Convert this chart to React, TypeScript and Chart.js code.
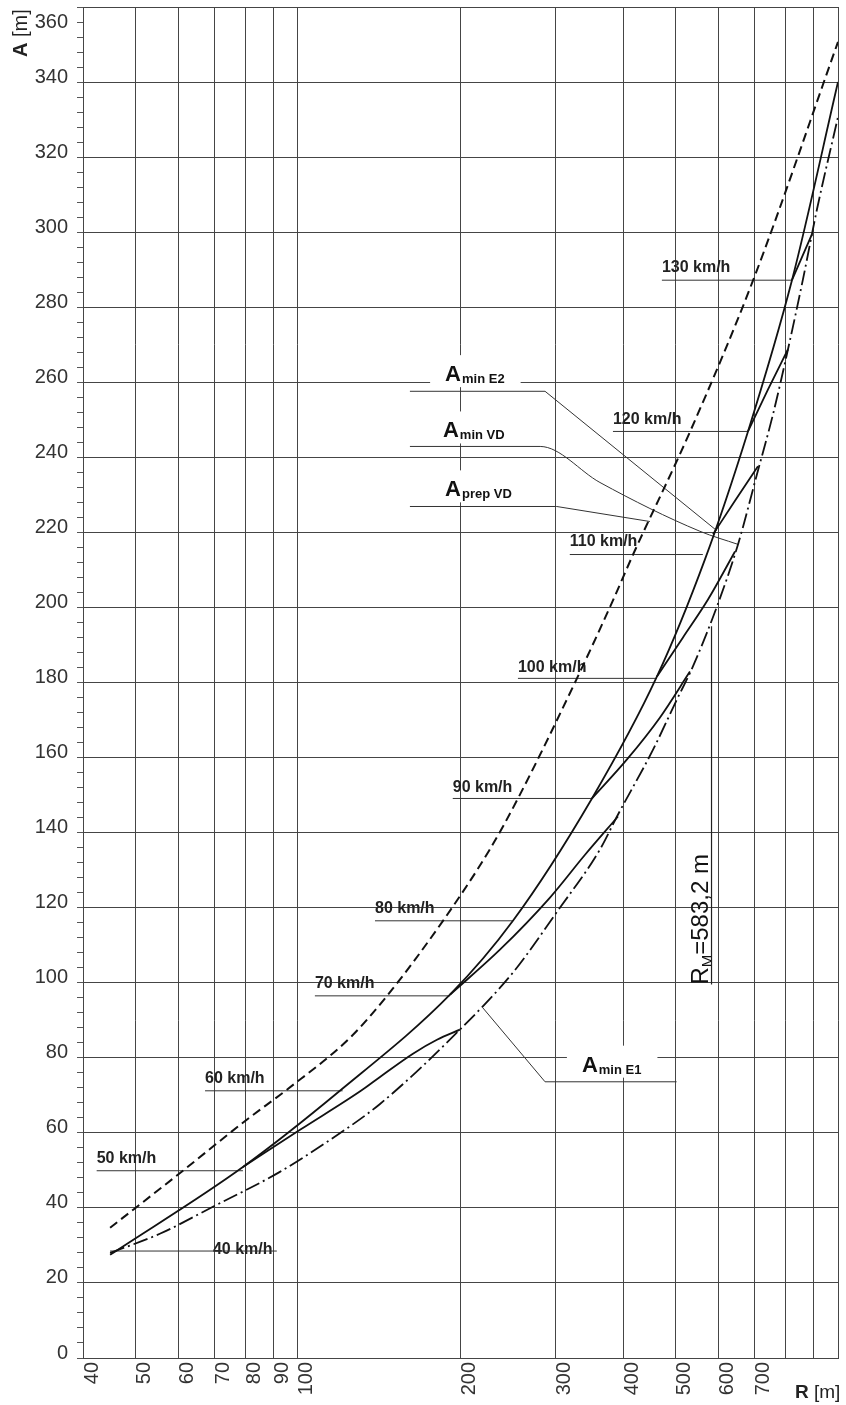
import React, { useEffect, useRef } from 'react';
import { Chart, registerables } from 'chart.js';

Chart.register(...registerables);

const FONT = '"Liberation Sans", Arial, Helvetica, sans-serif';

// Axes
const xTickValues = [40, 50, 60, 70, 80, 90, 100, 200, 300, 400, 500, 600, 700, 800, 900, 1000];
const xTickLabels = ['40', '50', '60', '70', '80', '90', '100', '200', '300', '400', '500', '600', '700', '', '', ''];
const yTickLabels = [0, 20, 40, 60, 80, 100, 120, 140, 160, 180, 200, 220, 240, 260, 280, 300, 320, 340, 360];

// A prep VD (dashed)
const prepVdR = [44.9, 60.5, 80.4, 95.4, 124.8, 146.2, 185.6, 226.6, 255.5, 328.6, 381.5, 417.4, 532.4, 696.4, 1000];
const prepVdA = [34.7, 49.3, 63.5, 71.5, 85.3, 96.5, 116.5, 135.5, 149.1, 181.1, 201.3, 214.1, 246.9, 287.2, 350.7];

// upper solid curve through the speed points
const upperR = [44.9, 79.1, 119.6, 191.2, 250.1, 350.3, 462.2, 567.1, 681.3, 821.8, 1000];
const upperA = [27.5, 50.9, 71.2, 96.8, 116.5, 149.1, 181.6, 212.8, 246.9, 287.2, 340];

// A min E1 (dash-dot)
const e1R = [44.9, 55.5, 69.6, 92.6, 114.6, 141.9, 199.5, 250.1, 301.8, 362.4, 389.7, 454.5, 503.3, 538.8, 597, 652.9, 707.9, 758.1, 808, 861.4, 914.3, 1000];
const e1A = [28, 33.1, 40.3, 49.6, 58.1, 67.7, 87.5, 102.7, 118.9, 135.5, 144.3, 162.1, 175.5, 184.3, 200.3, 216.8, 235.5, 251.5, 268.8, 287.5, 306.1, 330.7];

// lower solid branches (from a speed point down to the E1 curve)
const seg50R = [79.1, 100.9, 130.8, 141.9, 163.3, 180.9, 199.5];
const seg50A = [50.9, 60.8, 71.2, 74.9, 81.1, 84.8, 87.5];
const seg70R = [191.2, 236.6, 292.9, 340.1, 391.4];
const seg70A = [96.8, 108.8, 122.7, 134.1, 144.3];
const seg90R = [350.3, 406.7, 468.2, 531.9];
const seg90A = [149.1, 159.5, 170.7, 182.9];
const seg100R = [462.2, 516.4, 574.5, 644.6];
const seg100A = [181.6, 192, 202.1, 214.9];
const seg110R = [586.9, 647.3, 710.9];
const seg110A = [219.5, 228.8, 237.6];
const seg120R = [681.3, 742.1, 808];
const seg120A = [246.9, 258.1, 268.8];
const seg130R = [821.8, 895.1];
const seg130A = [287.2, 299.5];

// speed notes
const speedLabels = ['40 km/h', '50 km/h', '60 km/h', '70 km/h', '80 km/h', '90 km/h', '100 km/h', '110 km/h', '120 km/h', '130 km/h'];
const speedFromR = [44.9, 42.4, 67.3, 107.5, 138.9, 193.5, 255.5, 318.7, 383.1, 472];
const speedToR = [91.4, 79.1, 121, 191.2, 250.1, 350.3, 462.2, 562, 681.3, 821.8];
const speedLineA = [28.5, 49.9, 71.2, 96.5, 116.5, 149.1, 181.1, 214.1, 246.9, 287.2];
const speedTextR = [69.6, 42.4, 67.3, 107.5, 138.9, 193.5, 255.5, 318.7, 383.1, 472];
const speedTextA = [27.7, 52, 73.3, 98.7, 118.7, 150.9, 182.9, 216.3, 248.8, 289.3];

// curve names
const curveSubs = ['min E2', 'min VD', 'prep VD', 'min E1'];
const curveTextR = [187.3, 185.6, 187.3, 335.6];
const curveTextA = [260.3, 245.3, 229.6, 76.3];
const leaderE2R = [161.2, 286.8, 596];
const leaderE2A = [257.6, 257.6, 220.5];
const leaderVdR = [161.2, 280.9, 362.4, 555, 653];
const leaderVdA = [242.9, 242.9, 233.3, 220.3, 216.8];
const leaderPrepR = [161.2, 301.4, 448.5];
const leaderPrepA = [226.9, 226.9, 222.9];
const leaderE1R = [220, 286.8, 502.5];
const leaderE1A = [93.3, 73.6, 73.6];

// R_M marker
const rmR = 583.2;
const rmA = [99.5, 195];
const rmText = '583,2 m';

const pts = (R: number[], A: number[]) => R.map((r, i) => ({ x: r, y: A[i] }));

const solid = (R: number[], A: number[]) => ({
  data: pts(R, A),
  borderColor: '#111',
  borderWidth: 1.8,
  pointRadius: 0,
  fill: false,
  cubicInterpolationMode: 'monotone' as const,
});

const thin = (R: number[], A: number[]) => ({
  data: pts(R, A),
  borderColor: '#333',
  borderWidth: 1,
  pointRadius: 0,
  fill: false,
  tension: 0,
});

const notesPlugin = {
  id: 'notes',
  beforeDatasetsDraw(chart: any) {
    const { ctx } = chart;
    const x = chart.scales.x;
    const y = chart.scales.y;
    ctx.save();
    ctx.textBaseline = 'alphabetic';
    ctx.textAlign = 'left';
    // curve names with white boxes
    for (let i = 0; i < curveSubs.length; i++) {
      const px = x.getPixelForValue(curveTextR[i]);
      const py = y.getPixelForValue(curveTextA[i]);
      ctx.font = `bold 22px ${FONT}`;
      const wA = ctx.measureText('A').width;
      ctx.font = `bold 13px ${FONT}`;
      const wS = ctx.measureText(curveSubs[i]).width;
      ctx.fillStyle = '#fff';
      ctx.fillRect(px - 15, py - 26, wA + wS + 32, 32);
      ctx.fillStyle = '#111';
      ctx.font = `bold 22px ${FONT}`;
      ctx.fillText('A', px, py);
      ctx.font = `bold 13px ${FONT}`;
      ctx.fillText(curveSubs[i], px + wA + 1, py + 2);
    }
    // speed labels
    ctx.font = `bold 16px ${FONT}`;
    ctx.fillStyle = '#222';
    for (let i = 0; i < speedLabels.length; i++) {
      ctx.fillText(speedLabels[i], x.getPixelForValue(speedTextR[i]), y.getPixelForValue(speedTextA[i]));
    }
    // R_M text
    const rx = x.getPixelForValue(rmR) - 4;
    const ry = y.getPixelForValue(rmA[0]);
    ctx.translate(rx, ry);
    ctx.rotate(-Math.PI / 2);
    ctx.fillStyle = '#111';
    ctx.font = `24px ${FONT}`;
    ctx.fillText('R', 0, 0);
    let off = ctx.measureText('R').width;
    ctx.font = `15px ${FONT}`;
    ctx.fillText('M', off, 4);
    off += ctx.measureText('M').width;
    ctx.font = `24px ${FONT}`;
    ctx.fillText('=' + rmText, off, 0);
    ctx.restore();
  },
  afterDraw(chart: any) {
    const { ctx } = chart;
    ctx.save();
    ctx.fillStyle = '#222';
    ctx.textBaseline = 'alphabetic';
    ctx.textAlign = 'left';
    // y title
    ctx.save();
    ctx.translate(27, 57);
    ctx.rotate(-Math.PI / 2);
    ctx.font = `bold 20px ${FONT}`;
    ctx.fillText('A', 0, 0);
    const w = ctx.measureText('A ').width;
    ctx.font = `20px ${FONT}`;
    ctx.fillText('[m]', w, 0);
    ctx.restore();
    // x title
    ctx.font = `bold 19px ${FONT}`;
    ctx.fillText('R', 795, 1398);
    const w2 = ctx.measureText('R ').width;
    ctx.font = `19px ${FONT}`;
    ctx.fillText('[m]', 795 + w2, 1398);
    ctx.restore();
  },
};

export default function App() {
  const ref = useRef<HTMLCanvasElement | null>(null);
  useEffect(() => {
    if (!ref.current) return;
    const gridColor = '#454545';
    const topValue = yTickLabels[yTickLabels.length - 1];
    const chart = new Chart(ref.current, {
      type: 'line',
      data: {
        datasets: [
          {
            ...solid(prepVdR, prepVdA),
            borderWidth: 2,
            borderDash: [9, 5],
          },
          solid(upperR, upperA),
          {
            ...solid(e1R, e1A),
            borderDash: [15, 4, 2, 4],
          },
          solid(seg50R, seg50A),
          solid(seg70R, seg70A),
          solid(seg90R, seg90A),
          solid(seg100R, seg100A),
          solid(seg110R, seg110A),
          solid(seg120R, seg120A),
          solid(seg130R, seg130A),
          ...speedLabels.map((_, i) => thin([speedFromR[i], speedToR[i]], [speedLineA[i], speedLineA[i]])),
          thin(leaderE2R, leaderE2A),
          { ...thin(leaderVdR, leaderVdA), cubicInterpolationMode: 'monotone' as const },
          thin(leaderPrepR, leaderPrepA),
          thin(leaderE1R, leaderE1A),
          { ...thin([rmR, rmR], rmA), borderColor: '#222', borderWidth: 1.2 },
        ] as any,
      },
      options: {
        responsive: false,
        animation: false,
        devicePixelRatio: 1,
        layout: { padding: { top: 7, right: 8, bottom: 0, left: 0 } },
        plugins: { legend: { display: false }, tooltip: { enabled: false } },
        scales: {
          x: {
            type: 'logarithmic',
            min: 40,
            max: 1000,
            afterBuildTicks: (scale: any) => {
              scale.ticks = xTickValues.map((v) => ({ value: v }));
            },
            afterFit: (scale: any) => {
              scale.height = 47;
              scale.paddingLeft = 0;
              scale.paddingRight = 0;
            },
            grid: { color: gridColor, lineWidth: 1, drawTicks: false },
            border: { color: gridColor },
            ticks: {
              autoSkip: false,
              minRotation: 90,
              maxRotation: 90,
              padding: 4,
              labelOffset: 9,
              color: '#333',
              font: { family: FONT, size: 20 },
              callback: (value: any) => {
                const i = xTickValues.indexOf(Number(value));
                return i >= 0 ? xTickLabels[i] : '';
              },
            },
          },
          y: {
            type: 'linear',
            min: 0,
            max: 360,
            afterFit: (scale: any) => {
              scale.width = 83;
              scale.paddingTop = 0;
              scale.paddingBottom = 0;
            },
            grid: {
              color: (c: any) => (c.tick && yTickLabels.includes(c.tick.value) ? gridColor : 'rgba(0,0,0,0)'),
              tickColor: '#555',
              tickLength: 6,
              drawTicks: true,
              lineWidth: 1,
            },
            border: { color: gridColor },
            ticks: {
              stepSize: 4,
              autoSkip: false,
              padding: 9,
              labelOffset: -5,
              color: '#333',
              font: { family: FONT, size: 20, lineHeight: 2 },
              callback: (value: any) => {
                const v = Number(value);
                if (!yTickLabels.includes(v)) return '';
                return v === topValue ? ['', String(v)] : String(v);
              },
            },
          },
        },
      },
      plugins: [notesPlugin],
    } as any);
    return () => chart.destroy();
  }, []);
  return (
    <div style={{ position: 'absolute', left: 0, top: 0, width: 846, height: 1405, background: '#fff' }}>
      <canvas ref={ref} width={846} height={1405} style={{ width: 846, height: 1405, display: 'block' }} />
    </div>
  );
}
